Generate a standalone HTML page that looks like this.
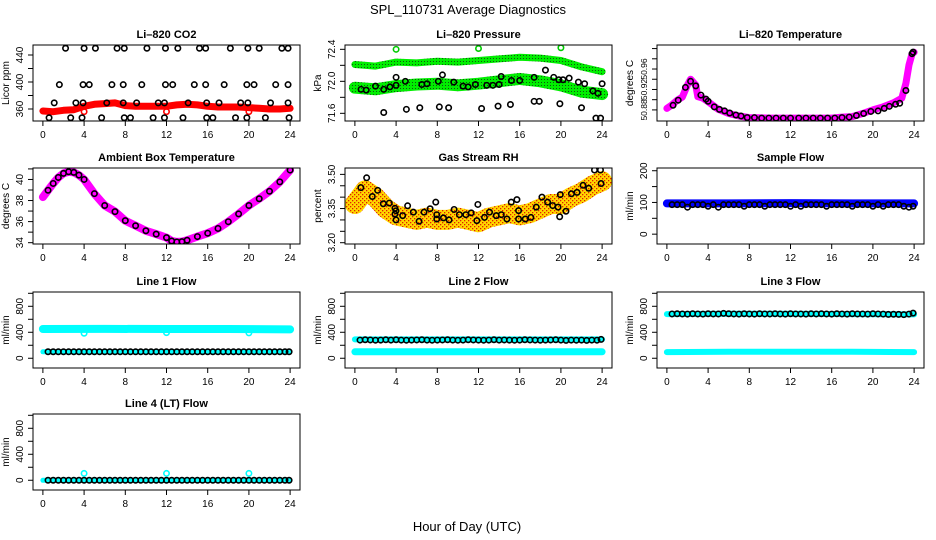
<!DOCTYPE html>
<html><head><meta charset="utf-8"><style>
html,body{margin:0;padding:0;background:#fff;}
svg{display:block;font-family:"Liberation Sans",Arial,sans-serif;}
</style></head><body>
<svg id="chart" width="936" height="540" viewBox="0 0 936 540" xmlns="http://www.w3.org/2000/svg">
<defs>
<pattern id="gdots" width="3" height="3" patternUnits="userSpaceOnUse"><rect width="3" height="3" fill="#00ee00"/><rect x="1" y="1" width="1" height="1" fill="#115511"/></pattern>
<pattern id="rhdots" width="4" height="4" patternUnits="userSpaceOnUse"><rect width="4" height="4" fill="#ffd800"/><rect x="0" y="0" width="1.3" height="1.3" fill="#e02000"/><rect x="2" y="2" width="1.3" height="1.3" fill="#e02000"/></pattern>
</defs>
<text x="468" y="14" font-size="13" text-anchor="middle">SPL_110731  Average Diagnostics</text>
<text x="467" y="531" font-size="13" text-anchor="middle">Hour of Day (UTC)</text>
</svg>
<script>
// ---------- data ----------
const xTicks = [0,4,8,12,16,20,24];
const halfHours = [0.5,1,1.5,2,2.5,3,3.5,4,4.5,5,5.5,6,6.5,7,7.5,8,8.5,9,9.5,10,10.5,11,11.5,12,12.5,13,13.5,14,14.5,15,15.5,16,16.5,17,17.5,18,18.5,19,19.5,20,20.5,21,21.5,22,22.5,23,23.5,23.9];

const co2Hours = [0,1,2,3,4,5,6,7,8,9,10,11,12,13,14,15,16,17,18,19,20,21,22,23,24];
const co2Band = [357,356,358,359,364,367,368,369,365,364,364,364,364,366,367,366,364,363,363,363,362,361,360,360,361];
const co2Pts450x = [2.2,4.0,5.1,7.2,7.9,10.1,11.9,13.1,15.2,15.8,18.2,19.9,21.0,23.2,23.8];
const co2Pts396x = [1.6,3.9,4.5,6.7,7.8,9.6,11.9,12.6,14.7,15.8,17.6,19.8,20.5,22.6,23.8];
const co2Pts369x = [1.1,3.2,3.9,6.2,7.8,9.1,11.2,11.8,14.1,15.9,17.1,19.2,19.9,22.1,23.8];
const co2Pts347x = [0.6,2.7,3.8,5.7,7.9,8.5,10.7,11.8,13.6,15.9,16.5,18.7,19.8,21.6,23.9];
const co2Levels = [450,396,369,347];
const co2RedX = [4,12,20];
const co2RedV = [356,356,356];

const presHours = [0,2,4,6,8,10,12,14,16,18,20,22,24];
const presUpper = [72.21,72.19,72.24,72.23,72.25,72.24,72.26,72.28,72.30,72.29,72.26,72.18,72.12];
const presLower = [71.92,71.90,71.94,71.96,71.97,71.95,71.97,72.00,72.03,72.00,71.95,71.87,71.84];
const presMidX = [0.6,1.1,2.0,2.8,3.4,4.0,4.0,4.9,6.5,7.0,8.1,8.5,9.6,10.5,11.0,11.7,12.8,13.4,14.0,14.2,15.2,16.0,17.4,18.5,19.3,19.8,20.2,20.8,21.7,22.3,23.1,23.6,24.0];
const presMidV = [71.90,71.89,71.94,71.90,71.93,71.95,72.05,72.00,71.96,71.97,72.00,72.08,71.99,71.94,71.93,71.96,71.95,71.95,71.96,72.06,72.01,72.01,72.05,72.14,72.05,72.02,72.02,72.04,71.99,71.97,71.88,71.85,71.97];
const presLowX = [2.8,5.0,6.3,8.2,9.1,12.3,13.9,15.1,17.4,17.9,19.9,22.0,23.4,23.85];
const presLowV = [71.61,71.65,71.67,71.68,71.67,71.66,71.69,71.71,71.75,71.75,71.72,71.67,71.54,71.54];
const presOutX = [4,12,20];
const presOutV = [72.40,72.41,72.42];

const tempHours = [0,0.5,1,1.5,2,2.3,2.8,3,3.5,4,5,6,7,8,10,12,14,16,17,18,19,20,21,22,22.8,23.2,23.5,23.8,24];
const tempBand = [50.883,50.890,50.899,50.905,50.929,50.940,50.929,50.906,50.903,50.896,50.881,50.873,50.868,50.865,50.864,50.864,50.864,50.864,50.866,50.867,50.873,50.880,50.886,50.894,50.903,50.932,50.968,50.990,50.993];
const tempPtsX = [0.6,1.1,1.8,2.3,2.8,3.3,3.8,4.0,4.6,5.1,5.6,6.1,6.7,7.2,7.8,8.5,9.2,9.9,10.6,11.3,12.0,12.8,13.5,14.2,14.9,15.6,16.3,17.0,17.7,18.4,19.1,19.8,20.5,21.1,21.6,22.2,22.6,23.2,23.8,23.9];
const tempPtsV = [50.889,50.899,50.924,50.936,50.927,50.909,50.901,50.897,50.886,50.881,50.878,50.874,50.870,50.868,50.865,50.865,50.864,50.864,50.864,50.864,50.864,50.864,50.864,50.864,50.864,50.864,50.864,50.865,50.866,50.869,50.873,50.877,50.878,50.883,50.887,50.891,50.893,50.918,50.990,50.993];

const ambHours = [0,0.5,1,1.5,2,2.5,3,3.5,4,5,6,7,8,9,10,11,12,12.5,13,13.5,14,15,16,17,18,19,20,21,22,23,24];
const ambBand = [38.33,38.97,39.62,40.19,40.58,40.73,40.67,40.41,40.00,38.65,37.53,36.95,36.09,35.61,35.13,34.81,34.48,34.16,34.07,34.10,34.23,34.58,34.90,35.35,35.99,36.73,37.53,38.17,38.88,39.77,40.89];

const rhHours = [0,1,2,3,4,5,6,7,8,9,10,11,12,13,14,15,16,17,18,19,20,21,22,23,24];
const rhBand = [3.37,3.43,3.40,3.35,3.32,3.31,3.30,3.31,3.30,3.30,3.31,3.30,3.29,3.31,3.32,3.33,3.32,3.33,3.35,3.37,3.37,3.40,3.42,3.45,3.47];
const rhPtsX = [0.58,1.14,1.69,2.21,2.76,3.34,3.89,3.89,3.99,3.99,4.64,5.12,5.68,6.23,6.71,7.30,7.85,7.95,7.95,8.60,9.15,9.63,10.15,10.77,11.29,11.84,11.94,12.58,13.07,13.72,14.21,14.76,15.18,15.73,15.89,15.89,16.54,17.09,17.61,18.16,18.71,19.20,19.72,19.88,19.94,20.49,21.02,21.57,22.15,22.70,23.26,23.84,23.90];
const rhPtsV = [3.442,3.485,3.403,3.430,3.371,3.374,3.351,3.326,3.300,3.340,3.319,3.362,3.334,3.294,3.334,3.349,3.378,3.304,3.323,3.309,3.300,3.346,3.323,3.323,3.331,3.297,3.368,3.311,3.334,3.319,3.323,3.304,3.378,3.389,3.341,3.304,3.304,3.311,3.356,3.400,3.378,3.363,3.356,3.314,3.411,3.338,3.415,3.421,3.452,3.439,3.519,3.519,3.46];

const sampleBandHours = [0,6,12,18,24];
const sampleBand = [97,97,98,97,97];
const sampleV = [93,93,93,85,93,93,93,88,93,85,93,93,93,93,88,93,93,93,88,93,93,93,93,88,93,88,93,93,93,93,88,93,93,93,93,88,93,93,93,88,93,88,93,93,93,88,85,88];

const flowBandHours = [0,6,12,18,24];
const line1Cyan = [450,452,450,450,445];
const line1Black = [100,100,100,100,100,100,100,100,100,100,100,100,100,100,100,100,100,100,100,100,100,100,100,100,100,100,100,100,100,100,100,100,100,100,100,100,100,100,100,100,100,100,100,100,100,100,100,100];
const line1OutX = [4,12,20];
const line1OutV = [385,395,390];
const line2Cyan = [100,100,100,100,100];
const line2Black = [280,285,282,278,280,285,280,285,280,278,280,282,285,280,278,280,282,285,280,278,280,285,282,280,278,280,285,280,282,280,278,280,285,282,280,278,280,282,285,280,275,280,278,280,275,280,278,290];
const line3Cyan = [95,100,100,100,95];
const line3Black = [682,685,682,680,685,682,680,685,682,682,690,685,682,680,685,682,680,685,682,682,685,682,680,685,682,682,680,685,682,685,682,680,685,682,680,685,682,682,680,685,682,680,675,678,675,672,680,695];
const line4Black = [0,0,0,0,0,0,0,0,0,0,0,0,0,0,0,0,0,0,0,0,0,0,0,0,0,0,0,0,0,0,0,0,0,0,0,0,0,0,0,0,0,0,0,0,0,0,0,0];
const line4OutX = [4,12,20];
const line4OutV = [105,105,105];

// ---------- drawing ----------
const NS = "http://www.w3.org/2000/svg";
const svg = document.getElementById('chart');
function mk(tag, attrs, parent){
  const e = document.createElementNS(NS, tag);
  for (const k in attrs) e.setAttribute(k, attrs[k]);
  (parent||svg).appendChild(e);
  return e;
}
const colsX = [33, 345, 657];
const rowsY = [45, 168, 292, 414];
const BW = 267, BH = 76;

function makePanel(name, col, row, title, ylab, ydom, yTicks, yLabels, lfs){
  const L = colsX[col], T = rowsY[row];
  const g = mk('g', {});
  
  
  const xs = h => L + (h + 0.96) / 25.92 * BW;
  const ys = v => T + BH - (v - ydom[0]) / (ydom[1] - ydom[0]) * BH;
  const t = mk('text', {x: L + BW/2, y: T - 7, 'font-size': 11, 'font-weight': 'bold', 'text-anchor': 'middle'}, g);
  t.textContent = title;
  
  
  const xa = mk('g', {}, g);
  
  
  mk('line', {x1: xs(xTicks[0]), x2: xs(xTicks[xTicks.length-1]), y1: T+BH, y2: T+BH, stroke: '#000'}, xa);
  xTicks.forEach(v => {
    mk('line', {x1: xs(v), x2: xs(v), y1: T+BH, y2: T+BH+5, stroke: '#000'}, xa);
    const tl = mk('text', {x: xs(v), y: T+BH+17, 'font-size': 10, 'text-anchor': 'middle'}, xa);
    tl.textContent = v;
  });
  const ya = mk('g', {}, g);
  
  
  mk('line', {x1: L, x2: L, y1: ys(yTicks[0]), y2: ys(yTicks[yTicks.length-1]), stroke: '#000'}, ya);
  yTicks.forEach(v => {
    mk('line', {x1: L-5, x2: L, y1: ys(v), y2: ys(v), stroke: '#000'}, ya);
  });
  yLabels.forEach(v => {
    const lx = L - 10, ly = ys(v);
    const tl = mk('text', {x: lx, y: ly, 'font-size': lfs || 10, 'text-anchor': 'middle', transform: `rotate(-90 ${lx} ${ly})`}, ya);
    tl.textContent = (typeof v === 'number' && ydom[1]-ydom[0] < 2) ? v.toFixed(2) : v;
  });
  const yl = mk('text', {x: L - 24, y: T + BH/2, 'font-size': 10, 'text-anchor': 'middle', transform: `rotate(-90 ${L-24} ${T+BH/2})`}, g);
  yl.textContent = ylab;
  
  
  const clip = 'clip-' + name;
  const cp = mk('clipPath', {id: clip}, g);
  mk('rect', {x: L, y: T, width: BW, height: BH}, cp);
  const plot = mk('g', {'clip-path': `url(#${clip})`}, g);
  mk('rect', {x: L, y: T, width: BW, height: BH, fill: 'none', stroke: '#000'}, g);
  return {g: plot, xs, ys};
}
function band(p, name, hrs, vals, color, width){
  const d = hrs.map((h,i) => (i ? 'L' : 'M') + p.xs(h).toFixed(1) + ' ' + p.ys(vals[i]).toFixed(1)).join(' ');
  const e = mk('path', {d, fill: 'none', stroke: color, 'stroke-width': width, 'stroke-linejoin': 'round', 'stroke-linecap': 'round'}, p.g);
  
  
}
function circles(p, name, xsArr, vs, color){
  const grp = mk('g', {}, p.g);
  
  
  xsArr.forEach((h,i) => {
    const v = Array.isArray(vs) ? vs[i] : vs;
    mk('circle', {cx: p.xs(h), cy: p.ys(v), r: 2.7, fill: 'none', stroke: color || '#000', 'stroke-width': 1.6}, grp);
  });
}

let p = makePanel('co2', 0, 0, 'Li\u2013820 CO2', 'Licor ppm', [342.2, 454.8], [360,380,400,420,440], [360,400,440]);
band(p, 'co2-band', co2Hours, co2Band, '#ff0000', 7);
circles(p, 'co2-red-points', co2RedX, co2RedV, '#ff0000');
circles(p, 'co2-points-450', co2Pts450x, co2Levels[0]);
circles(p, 'co2-points-396', co2Pts396x, co2Levels[1]);
circles(p, 'co2-points-369', co2Pts369x, co2Levels[2]);
circles(p, 'co2-points-347', co2Pts347x, co2Levels[3]);

p = makePanel('pressure', 1, 0, 'Li\u2013820 Pressure', 'kPa', [71.504, 72.454], [71.6,71.8,72.0,72.2,72.4], ['71.6','72.0','72.4']);
band(p, 'pressure-upper-band', presHours, presUpper, 'url(#gdots)', 7);
band(p, 'pressure-lower-band', presHours, presLower, 'url(#gdots)', 12);
circles(p, 'pressure-outliers', presOutX, presOutV, '#00cc00');
circles(p, 'pressure-mid-points', presMidX, presMidV);
circles(p, 'pressure-low-points', presLowX, presLowV);

p = makePanel('li820-temp', 2, 0, 'Li\u2013820 Temperature', 'degrees C', [50.8583, 51.007], [50.88,50.90,50.92,50.94,50.96,50.98,51.00], [50.88,50.92,50.96], 8.5);
band(p, 'li820-temp-band', tempHours, tempBand, '#ff00ff', 7);
circles(p, 'li820-temp-points', tempPtsX, tempPtsV);

p = makePanel('ambient-temp', 0, 1, 'Ambient Box Temperature', 'degrees C', [33.875, 41.087], [34,35,36,37,38,39,40,41], [34,36,38,40]);
band(p, 'ambient-temp-band', ambHours, ambBand, '#ff00ff', 8);
circles(p, 'ambient-temp-points', ambHours.slice(1), ambBand.slice(1));

p = makePanel('gas-rh', 1, 1, 'Gas Stream RH', 'percent', [3.1943, 3.528], [3.20,3.25,3.30,3.35,3.40,3.45,3.50], [3.20,3.35,3.50]);
band(p, 'gas-rh-band', rhHours, rhBand, 'url(#rhdots)', 20);
circles(p, 'gas-rh-points', rhPtsX, rhPtsV);

p = makePanel('sample-flow', 2, 1, 'Sample Flow', 'ml/min', [-31, 208.6], [0,50,100,150,200], ['0','100','200']);
band(p, 'sample-flow-band', sampleBandHours, sampleBand, '#0000ff', 8);
circles(p, 'sample-flow-points', halfHours, sampleV);

const fdom = [-150, 1020];
const fticks = [0,200,400,600,800,1000];
const flabels = ['0','400','800'];
p = makePanel('line1-flow', 0, 2, 'Line 1 Flow', 'ml/min', fdom, fticks, flabels);
band(p, 'line1-cyan-band', flowBandHours, line1Cyan, '#00ffff', 8);
band(p, 'line1-cyan-low', flowBandHours, line1Black.slice(0,5), '#00ffff', 5);
circles(p, 'line1-cyan-outliers', line1OutX, line1OutV, '#00ffff');
circles(p, 'line1-points', halfHours, line1Black);
p = makePanel('line2-flow', 1, 2, 'Line 2 Flow', 'ml/min', fdom, fticks, flabels);
band(p, 'line2-cyan-band', flowBandHours, line2Cyan, '#00ffff', 7);
band(p, 'line2-cyan-high', flowBandHours, [290,290,290,290,290], '#00ffff', 6);
circles(p, 'line2-points', halfHours, line2Black);
p = makePanel('line3-flow', 2, 2, 'Line 3 Flow', 'ml/min', fdom, fticks, flabels);
band(p, 'line3-cyan-band', flowBandHours, line3Cyan, '#00ffff', 6);
band(p, 'line3-cyan-high', flowBandHours, [680,685,685,680,675], '#00ffff', 6);
circles(p, 'line3-points', halfHours, line3Black);
p = makePanel('line4-flow', 0, 3, 'Line 4 (LT) Flow', 'ml/min', fdom, fticks, flabels);
band(p, 'line4-cyan-band', flowBandHours, [0,0,0,0,0], '#00ffff', 5);
circles(p, 'line4-cyan-outliers', line4OutX, line4OutV, '#00ffff');
circles(p, 'line4-points', halfHours, line4Black);
</script>
</body></html>
